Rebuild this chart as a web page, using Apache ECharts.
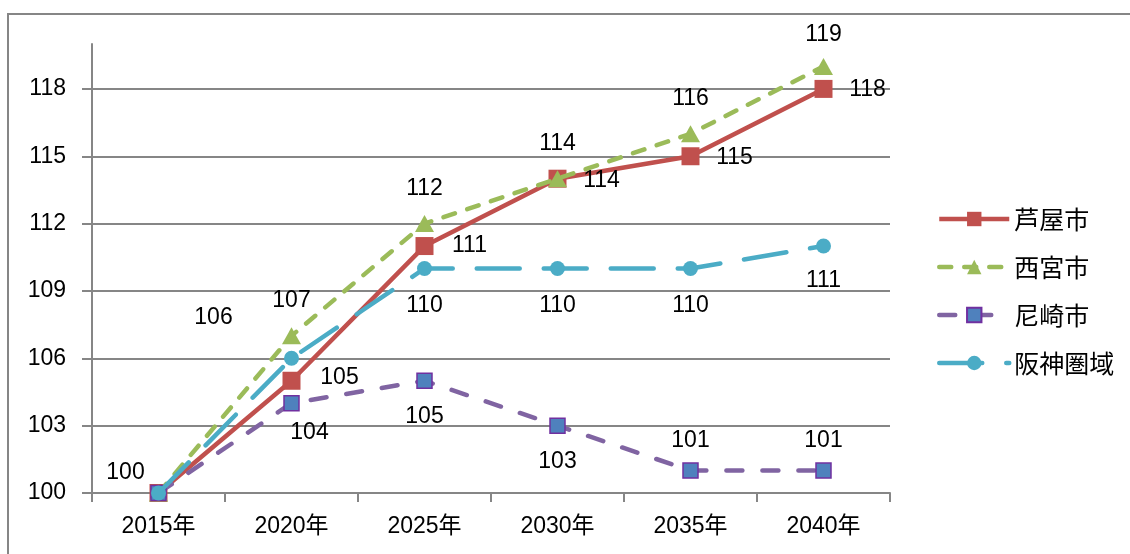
<!DOCTYPE html>
<html>
<head>
<meta charset="utf-8">
<script src="https://cdn.jsdelivr.net/npm/echarts@6/dist/echarts.min.js"></script>
<style>
  html, body { margin: 0; padding: 0; background: #fff; }
  #chart { width: 1130px; height: 554px; }
</style>
</head>
<body>
<div id="chart"></div>
<script>
// data
const years = ["2015年", "2020年", "2025年", "2030年", "2035年", "2040年"];
const ashiya = [100, 105, 111, 114, 115, 118];
const nishinomiya = [100, 107, 112, 114, 116, 119];
const amagasaki = [100, 104, 105, 103, 101, 101];
const hanshin = [100, 106, 110, 110, 110, 111];
const yTicks = [100, 103, 106, 109, 112, 115, 118];

const FONT = "'Liberation Sans', 'Noto Sans CJK JP', sans-serif";
const GRAY = "#868686";

// label offsets (dx, dy from the point), null = no label
const ashiyaOff = [[-33, -20], [48, -3], [45, 0], [44, 2], [44, 1], [44, 1]];
const nishiOff = [null, [0, -35], [0, -35], [0, -35], [0, -35], [0, -32]];
const amaOff = [null, [18, 29], [0, 36], [0, 36], [0, -30], [0, -30]];
const hanOff = [null, [-78, -41], [0, 37], [0, 37], [0, 37], [0, 35]];

function withLabels(values, offs) {
  return values.map((v, i) => ({
    value: v,
    label: offs[i]
      ? { show: true, position: "inside", offset: offs[i] }
      : { show: false },
  }));
}

const labelStyle = { color: "#000", fontSize: 23, fontFamily: FONT };

const chart = echarts.init(document.getElementById("chart"), null, { renderer: "canvas" });

const option = {
  animation: false,
  graphic: [
    {
      type: "rect",
      shape: { x: 8, y: 14, width: 1200, height: 600 },
      style: { fill: null, stroke: GRAY, lineWidth: 2 },
      silent: true,
    },
  ],
  grid: { left: 92, right: 240, top: 44, bottom: 61 },
  legend: {
    orient: "vertical",
    left: 932,
    top: 201,
    itemWidth: 70,
    itemHeight: 18,
    itemGap: 22,
    lineStyle: { width: 4.5 },
    textStyle: { color: "#000", fontSize: 25, lineHeight: 26, fontFamily: "'Noto Sans CJK JP', sans-serif" },
    data: ["芦屋市", "西宮市", "尼崎市", "阪神圏域"],
  },
  xAxis: {
    type: "category",
    data: years,
    boundaryGap: true,
    axisLine: { lineStyle: { color: GRAY, width: 2 } },
    axisTick: { show: true, length: 9, lineStyle: { color: GRAY, width: 2 } },
    axisLabel: { color: "#000", fontSize: 23, fontFamily: FONT, margin: 22 },
  },
  yAxis: {
    type: "value",
    min: 100,
    max: 120,
    axisLine: { show: true, lineStyle: { color: GRAY, width: 2 } },
    axisTick: {
      show: true,
      inside: false,
      length: 10,
      customValues: yTicks,
      lineStyle: { color: GRAY, width: 2 },
    },
    axisLabel: { color: "#000", fontSize: 23, fontFamily: FONT, margin: 26, customValues: yTicks },
    splitLine: { show: true, lineStyle: { color: GRAY, width: 2 } },
  },
  series: [
    {
      name: "芦屋市",
      type: "line",
      data: withLabels(ashiya, ashiyaOff),
      symbol: "rect",
      symbolSize: 18,
      lineStyle: { color: "#C0504D", width: 4.5 },
      itemStyle: { color: "#C0504D" },
      label: labelStyle,
      z: 2,
    },
    {
      name: "西宮市",
      type: "line",
      data: withLabels(nishinomiya, nishiOff),
      symbol: "triangle",
      symbolSize: [19, 17],
      lineStyle: { color: "#9BBB59", width: 4.5, type: [12, 13], cap: "round" },
      itemStyle: { color: "#9BBB59" },
      label: labelStyle,
      z: 3,
    },
    {
      name: "尼崎市",
      type: "line",
      data: withLabels(amagasaki, amaOff),
      symbol: "rect",
      symbolSize: 15,
      lineStyle: { color: "#8064A2", width: 4.5, type: [16, 20], cap: "round" },
      itemStyle: { color: "#4F81BD", borderColor: "#7030A0", borderWidth: 1.5 },
      label: labelStyle,
      z: 4,
    },
    {
      name: "阪神圏域",
      type: "line",
      data: withLabels(hanshin, hanOff),
      symbol: "circle",
      symbolSize: 15,
      lineStyle: { color: "#4BACC6", width: 4.5, type: [43, 24], cap: "round" },
      itemStyle: { color: "#4BACC6" },
      label: labelStyle,
      z: 5,
    },
  ],
};

option && chart.setOption(option);
</script>
</body>
</html>
